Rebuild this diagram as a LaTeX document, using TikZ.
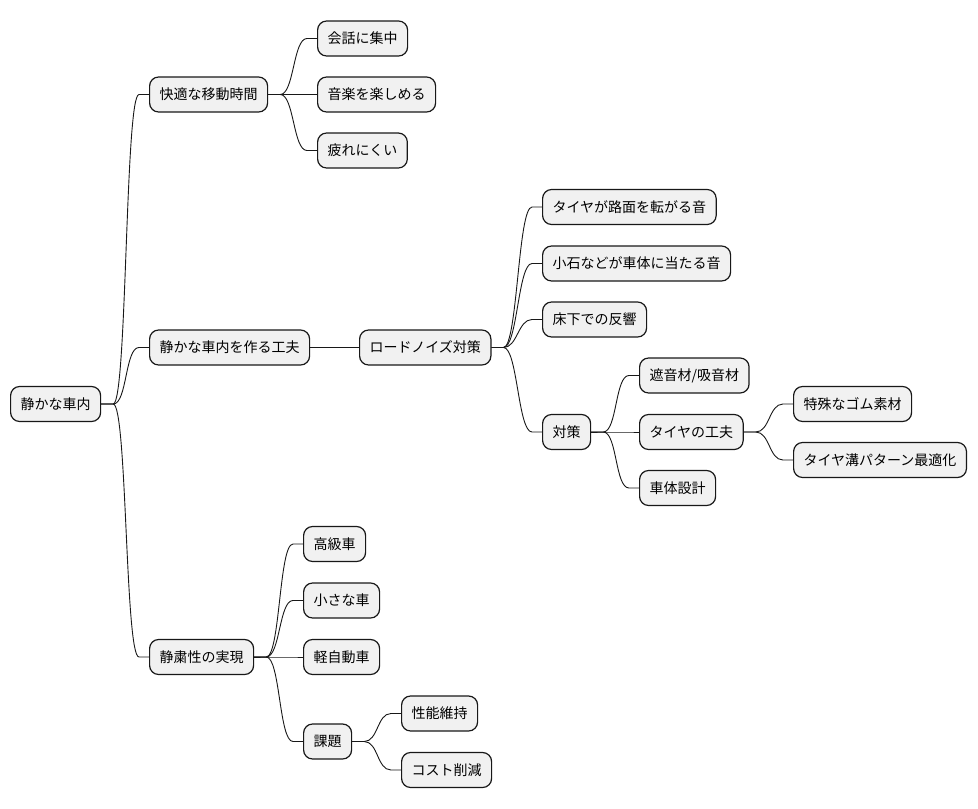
\documentclass[tikz,border=0pt]{standalone}
\usepackage{fontspec}
\setmainfont{Noto Sans CJK JP}
\definecolor{boxfill}{HTML}{F1F1F1}
\definecolor{ink}{HTML}{181818}
\begin{document}
\begin{tikzpicture}[x=1pt,y=-1pt,
 mm/.style={draw=ink, fill=boxfill, line width=1.2pt, rounded corners=9pt, minimum height=35pt, inner xsep=10pt, inner ysep=0pt, anchor=west, font=\fontsize{14pt}{16pt}\selectfont, text=black},
 edge/.style={draw=ink, line width=0.9pt}]
\useasboundingbox (0,0) rectangle (978,809);
\node[mm] (r) at (10,404) {静かな車内};
\node[mm] (a) at (149,94.5) {快適な移動時間};
\node[mm] (a1) at (317,38.5) {会話に集中};
\node[mm] (a2) at (317,94.5) {音楽を楽しめる};
\node[mm] (a3) at (317,150.5) {疲れにくい};
\node[mm] (b) at (149,347.5) {静かな車内を作る工夫};
\node[mm] (b1) at (359,347.5) {ロードノイズ対策};
\node[mm] (c1) at (542,207) {タイヤが路面を転がる音};
\node[mm] (c2) at (542,263.5) {小石などが車体に当たる音};
\node[mm] (c3) at (542,319.5) {床下での反響};
\node[mm] (c4) at (542,432) {対策};
\node[mm] (d1) at (639,375.5) {遮音材/吸音材};
\node[mm] (d2) at (639,432) {タイヤの工夫};
\node[mm] (d3) at (639,488) {車体設計};
\node[mm] (e1) at (793,404) {特殊なゴム素材};
\node[mm] (e2) at (793,460) {タイヤ溝パターン最適化};
\node[mm] (s) at (149,657) {静粛性の実現};
\node[mm] (s1) at (303,544) {高級車};
\node[mm] (s2) at (303,600.5) {小さな車};
\node[mm] (s3) at (303,657) {軽自動車};
\node[mm] (s4) at (303,741.5) {課題};
\node[mm] (t1) at (401,713.5) {性能維持};
\node[mm] (t2) at (401,770) {コスト削減};
\foreach \p/\c in {r/a, r/b, r/s, a/a1, a/a2, a/a3, b/b1, b1/c1, b1/c2, b1/c3, b1/c4, c4/d1, c4/d2, c4/d3, d2/e1, d2/e2, s/s1, s/s2, s/s3, s/s4, s4/t1, s4/t2}
  \draw[edge] (\p.east) -- ++(12,0) .. controls +(14,0) and +(-14,0) .. ([xshift=-10pt]\c.west) -- (\c.west);
\end{tikzpicture}
\end{document}
